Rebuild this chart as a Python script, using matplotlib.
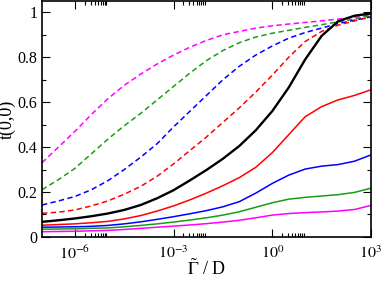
import numpy as np
import matplotlib
matplotlib.use('Agg')
import matplotlib.pyplot as plt
from matplotlib.ticker import FixedLocator, FixedFormatter

plt.rcParams['font.family'] = 'Liberation Serif'
plt.rcParams['mathtext.fontset'] = 'stix'

# log10 of Gamma/D
logx = [-7, -6.5, -6, -5.5, -5, -4.5, -4, -3.5, -3, -2.5, -2,
        -1.5, -1, -0.5, 0, 0.5, 1, 1.5, 2, 2.5, 3]

magenta_dash = [0.33, 0.40, 0.47, 0.545, 0.615, 0.675, 0.725, 0.77, 0.81, 0.845, 0.875,
                0.90, 0.915, 0.93, 0.94, 0.948, 0.955, 0.962, 0.97, 0.978, 0.988]
green_dash = [0.21, 0.255, 0.305, 0.37, 0.435, 0.495, 0.55, 0.61, 0.67, 0.73, 0.785,
              0.83, 0.865, 0.89, 0.907, 0.92, 0.933, 0.945, 0.958, 0.97, 0.985]
blue_dash = [0.142, 0.16, 0.18, 0.21, 0.25, 0.30, 0.355, 0.415, 0.49, 0.56, 0.63,
             0.70, 0.76, 0.81, 0.85, 0.885, 0.91, 0.93, 0.95, 0.965, 0.98]
red_dash = [0.105, 0.11, 0.12, 0.138, 0.16, 0.19, 0.225, 0.27, 0.325, 0.385, 0.445,
            0.51, 0.575, 0.645, 0.72, 0.80, 0.87, 0.915, 0.943, 0.962, 0.98]
black = [0.067, 0.074, 0.082, 0.092, 0.104, 0.12, 0.142, 0.172, 0.208, 0.252, 0.298,
         0.348, 0.405, 0.475, 0.56, 0.665, 0.79, 0.895, 0.96, 0.985, 0.995]
red = [0.052, 0.055, 0.058, 0.063, 0.069, 0.08, 0.095, 0.115, 0.138, 0.165, 0.195,
       0.228, 0.264, 0.31, 0.375, 0.455, 0.535, 0.58, 0.61, 0.63, 0.655]
blue = [0.043, 0.044, 0.045, 0.047, 0.051, 0.058, 0.067, 0.078, 0.09, 0.103, 0.117,
        0.134, 0.157, 0.195, 0.238, 0.275, 0.302, 0.315, 0.322, 0.337, 0.365]
green = [0.034, 0.035, 0.036, 0.038, 0.04, 0.045, 0.051, 0.058, 0.066, 0.075, 0.085,
         0.097, 0.112, 0.132, 0.152, 0.168, 0.176, 0.182, 0.188, 0.198, 0.217]
magenta = [0.023, 0.024, 0.025, 0.027, 0.029, 0.033, 0.038, 0.043, 0.048, 0.053, 0.059,
           0.066, 0.074, 0.085, 0.097, 0.104, 0.108, 0.111, 0.115, 0.122, 0.14]

x = 10.0 ** np.array(logx)

fig = plt.figure(figsize=(3.82, 2.81), dpi=100)
ax = fig.add_axes([0.110, 0.157, 0.861, 0.839])

MAG = '#ff00ff'
GRN = '#169f16'
BLU = '#0000ff'
RED = '#ff0000'

for y, c in [(magenta_dash, MAG), (green_dash, GRN), (blue_dash, BLU), (red_dash, RED)]:
    ax.plot(x, y, color=c, lw=1.1, dashes=(3.5, 2.2))
for y, c in [(magenta, MAG), (green, GRN), (blue, BLU), (red, RED)]:
    ax.plot(x, y, color=c, lw=1.1)
ax.plot(x, black, color='black', lw=1.7)

ax.set_xscale('log')
ax.set_xlim(1e-7, 1e3)
ax.set_ylim(0, 1.05)

ax.xaxis.set_major_locator(FixedLocator([1e-6, 1e-3, 1e0, 1e3]))
ax.xaxis.set_major_formatter(FixedFormatter([r'$10^{-6}$', r'$10^{-3}$', r'$10^{0}$', r'$10^{3}$']))
minor = [m * 10.0 ** d for d in (-6, -3, 0) for m in range(2, 10)]
ax.xaxis.set_minor_locator(FixedLocator(minor))
ax.xaxis.set_minor_formatter(FixedFormatter([''] * len(minor)))

ax.yaxis.set_major_locator(FixedLocator([0, 0.2, 0.4, 0.6, 0.8, 1.0]))
ax.yaxis.set_major_formatter(FixedFormatter(['0', '0.2', '0.4', '0.6', '0.8', '1']))
ax.yaxis.set_minor_locator(FixedLocator([0.1, 0.3, 0.5, 0.7, 0.9]))

ax.tick_params(which='both', direction='in', top=True, right=True, labelsize=11.5, width=0.8)
ax.tick_params(which='major', length=5.5)
ax.tick_params(which='minor', length=3)
ax.tick_params(axis='x', pad=6)

for s in ax.spines.values():
    s.set_linewidth(1.2)

ax.set_ylabel('t(0,0)', fontsize=13, labelpad=1)
ax.set_xlabel(r'$\tilde{\Gamma}$ / D', fontsize=13, labelpad=-2.5)

fig.savefig('out.png', dpi=100)
